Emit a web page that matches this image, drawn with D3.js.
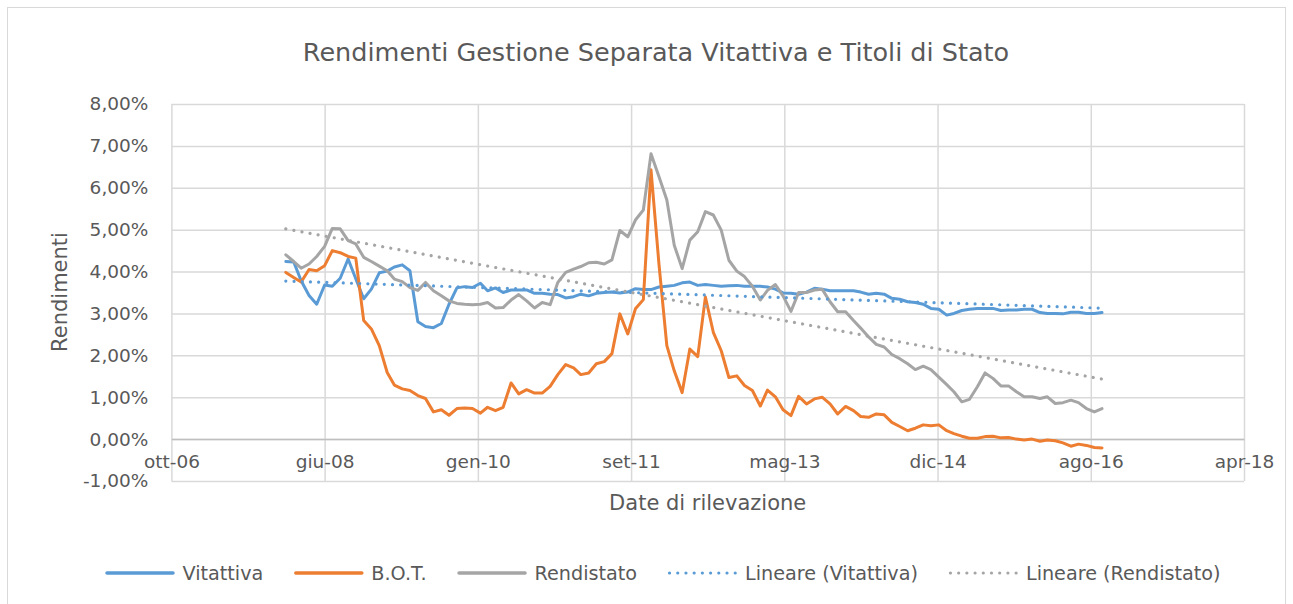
<!DOCTYPE html>
<html lang="it">
<head>
<meta charset="UTF-8">
<title>Rendimenti Gestione Separata Vitattiva e Titoli di Stato</title>
<script src="https://d3js.org/d3.v7.min.js"></script>
<style>
    body { margin: 0; background: #fff; }
    svg { display: block; font-family: "DejaVu Sans", sans-serif; }
    text { fill: #595959; }
</style>
</head>
<body>
<div id="chart"></div>
<script>
    // monthly values, gen-08 .. ott-16 (in %)
    const vitattiva = [
        4.24, 4.23, 3.78, 3.43, 3.22, 3.68, 3.65, 3.84, 4.30, 3.83, 3.35, 3.58,
        3.97, 4.01, 4.11, 4.16, 4.02, 2.80, 2.69, 2.66, 2.76, 3.22, 3.61, 3.64,
        3.62, 3.72, 3.54, 3.61, 3.50, 3.56, 3.56, 3.56, 3.48, 3.48, 3.46, 3.45,
        3.37, 3.40, 3.46, 3.42, 3.48, 3.50, 3.51, 3.49, 3.51, 3.59, 3.57, 3.57,
        3.63, 3.65, 3.67, 3.73, 3.75, 3.67, 3.69, 3.67, 3.65, 3.66, 3.67, 3.65,
        3.65, 3.65, 3.63, 3.58, 3.49, 3.48, 3.46, 3.51, 3.60, 3.58, 3.54, 3.54,
        3.54, 3.54, 3.51, 3.46, 3.48, 3.46, 3.36, 3.34, 3.28, 3.26, 3.22, 3.12,
        3.10, 2.96, 3.00, 3.07, 3.10, 3.12, 3.12, 3.12, 3.07, 3.08, 3.08, 3.10,
        3.10, 3.02, 3.00, 3.00, 2.99, 3.03, 3.03, 3.00, 3.00, 3.02
    ];
    const bot = [
        3.98, 3.86, 3.75, 4.05, 4.02, 4.14, 4.50, 4.45, 4.36, 4.32, 2.83, 2.63,
        2.23, 1.59, 1.29, 1.20, 1.16, 1.04, 0.97, 0.65, 0.70, 0.57, 0.73, 0.74,
        0.73, 0.62, 0.76, 0.68, 0.76, 1.34, 1.08, 1.18, 1.10, 1.10, 1.26, 1.54,
        1.78, 1.70, 1.54, 1.58, 1.80, 1.85, 2.04, 2.99, 2.51, 3.11, 3.33, 6.43,
        4.19, 2.23, 1.63, 1.11, 2.15, 1.97, 3.39, 2.55, 2.11, 1.47, 1.51, 1.28,
        1.16, 0.79, 1.17, 1.01, 0.70, 0.56, 1.02, 0.84, 0.96, 1.00, 0.84, 0.60,
        0.78, 0.68, 0.54, 0.52, 0.60, 0.58, 0.40, 0.30, 0.20, 0.26, 0.34, 0.32,
        0.34, 0.20, 0.13, 0.07, 0.02, 0.02, 0.06, 0.07, 0.03, 0.04, 0.00, -0.02,
        0.00, -0.05, -0.02, -0.04, -0.09, -0.17, -0.12, -0.15, -0.20, -0.21
    ];
    const rendistato = [
        4.40, 4.24, 4.08, 4.18, 4.36, 4.60, 5.03, 5.02, 4.74, 4.66, 4.34, 4.24,
        4.13, 4.02, 3.82, 3.76, 3.62, 3.55, 3.74, 3.54, 3.42, 3.30, 3.24, 3.22,
        3.21, 3.22, 3.26, 3.13, 3.14, 3.32, 3.45, 3.30, 3.13, 3.26, 3.21, 3.74,
        3.98, 4.06, 4.12, 4.21, 4.22, 4.18, 4.28, 4.98, 4.83, 5.23, 5.47, 6.81,
        6.27, 5.71, 4.63, 4.07, 4.75, 4.95, 5.43, 5.35, 4.99, 4.27, 4.01, 3.88,
        3.65, 3.32, 3.55, 3.69, 3.42, 3.05, 3.50, 3.50, 3.56, 3.58, 3.28, 3.04,
        3.04, 2.83, 2.65, 2.44, 2.26, 2.20, 2.02, 1.92, 1.80, 1.66, 1.74, 1.66,
        1.48, 1.30, 1.13, 0.89, 0.95, 1.25, 1.58, 1.45, 1.27, 1.27, 1.13, 1.01,
        1.01, 0.97, 1.01, 0.85, 0.87, 0.93, 0.87, 0.73, 0.65, 0.73
    ];
    const firstMonth = "2008-01-01";
    const tickDates = ["2006-10-10", "2008-06-01", "2010-01-22", "2011-09-14",
                       "2013-05-06", "2014-12-27", "2016-08-18", "2018-04-10"];
    const tickLabels = ["ott-06", "giu-08", "gen-10", "set-11", "mag-13", "dic-14", "ago-16", "apr-18"];
    const yTicks = [-1, 0, 1, 2, 3, 4, 5, 6, 7, 8];
    const seriesNames = ["Vitattiva", "B.O.T.", "Rendistato", "Lineare (Vitattiva)", "Lineare (Rendistato)"];
    const colors = { blue: "#5b9bd5", orange: "#ed7d31", gray: "#a5a5a5" };

    const W = 1293, H = 604;
    const plot = { left: 171.4, right: 1244, top: 104, bottom: 481 };

    const svg = d3.select("#chart").append("svg")
        .attr("width", W)
        .attr("height", H);

    svg.append("rect")
        .attr("width", W).attr("height", H)
        .attr("fill", "#fff");

    // chart area border
    svg.append("rect")
        .attr("x", 7.5).attr("y", 7.5)
        .attr("width", 1278).attr("height", 610)
        .attr("fill", "none")
        .attr("stroke", "#d9d9d9");

    const parse = d3.utcParse("%Y-%m-%d");
    const ticks = tickDates.map(parse);
    const start = parse(firstMonth);
    const months = vitattiva.map((d, i) => d3.utcMonth.offset(start, i));

    const x = d3.scaleUtc().domain([ticks[0], ticks[ticks.length - 1]]).range([plot.left, plot.right]);
    const y = d3.scaleLinear().domain([-1, 8]).range([plot.bottom, plot.top]);

    const it = d3.formatLocale({ decimal: ",", thousands: ".", grouping: [3], currency: ["", "€"], minus: "-" });
    const fmt = v => it.format(".2f")(v) + "%";

    // horizontal gridlines + y labels
    const yAxis = svg.append("g")
        .attr("transform", `translate(${plot.left},0)`)
        .call(d3.axisLeft(y).tickValues(yTicks).tickFormat(fmt)
            .tickSize(-(plot.right - plot.left)).tickPadding(23));
    yAxis.select(".domain").remove();
    yAxis.selectAll("line").attr("stroke", "#d9d9d9").attr("stroke-width", 1.5);
    yAxis.selectAll("text").attr("font-size", 18.5).attr("fill", "#595959")
        .attr("font-family", "DejaVu Sans");

    // vertical gridlines
    const xGrid = svg.append("g")
        .attr("transform", `translate(0,${plot.bottom})`)
        .call(d3.axisBottom(x).tickValues(ticks).tickFormat("")
            .tickSize(-(plot.bottom - plot.top)));
    xGrid.select(".domain").remove();
    xGrid.selectAll("line").attr("stroke", "#d9d9d9").attr("stroke-width", 1.5);

    // horizontal axis crosses at 0
    const xAxis = svg.append("g")
        .attr("transform", `translate(0,${y(0)})`)
        .call(d3.axisBottom(x).tickValues(ticks)
            .tickFormat((d, i) => tickLabels[i]).tickSize(0).tickPadding(16));
    xAxis.select(".domain").attr("stroke", "#bfbfbf").attr("stroke-width", 1.5);
    xAxis.selectAll("text").attr("font-size", 18.5).attr("fill", "#595959")
        .attr("font-family", "DejaVu Sans");

    // trendlines (least squares on date)
    function trend(values) {
        const xs = months.map(d => +d / 864e5);
        const mx = d3.mean(xs), my = d3.mean(values);
        let num = 0, den = 0;
        xs.forEach((v, i) => { num += (v - mx) * (values[i] - my); den += (v - mx) ** 2; });
        const m = num / den, b = my - m * mx;
        const ends = [months[0], months[months.length - 1]];
        return ends.map(d => ({ date: d, value: m * (+d / 864e5) + b }));
    }

    const line = d3.line().x(d => x(d.date)).y(d => y(d.value));
    const toPoints = vals => vals.map((v, i) => ({ date: months[i], value: v }));

    const series = [
        { vals: toPoints(vitattiva), color: colors.blue },
        { vals: toPoints(bot), color: colors.orange },
        { vals: toPoints(rendistato), color: colors.gray }
    ];

    svg.selectAll(".series")
        .data(series)
        .enter().append("path")
        .attr("class", "series")
        .attr("d", d => line(d.vals))
        .attr("fill", "none")
        .attr("stroke", d => d.color)
        .attr("stroke-width", 3)
        .attr("stroke-linejoin", "round")
        .attr("stroke-linecap", "round");

    const trends = [
        { vals: trend(vitattiva), color: colors.blue },
        { vals: trend(rendistato), color: colors.gray }
    ];

    svg.selectAll(".trend")
        .data(trends)
        .enter().append("path")
        .attr("class", "trend")
        .attr("d", d => line(d.vals))
        .attr("fill", "none")
        .attr("stroke", d => d.color)
        .attr("stroke-width", 3.2)
        .attr("stroke-linecap", "round")
        .attr("stroke-dasharray", "0.01 8.2");

    // title
    svg.append("text")
        .attr("x", 656).attr("y", 61)
        .attr("text-anchor", "middle")
        .attr("font-size", 25.5)
        .text("Rendimenti Gestione Separata Vitattiva e Titoli di Stato");

    // axis titles
    svg.append("text")
        .attr("x", (plot.left + plot.right) / 2).attr("y", 510)
        .attr("text-anchor", "middle")
        .attr("font-size", 21)
        .text("Date di rilevazione");

    svg.append("text")
        .attr("transform", "translate(67,292) rotate(-90)")
        .attr("text-anchor", "middle")
        .attr("font-size", 21)
        .text("Rendimenti");

    // legend
    const legendItems = [
        { name: seriesNames[0], color: colors.blue, dotted: false },
        { name: seriesNames[1], color: colors.orange, dotted: false },
        { name: seriesNames[2], color: colors.gray, dotted: false },
        { name: seriesNames[3], color: colors.blue, dotted: true },
        { name: seriesNames[4], color: colors.gray, dotted: true }
    ];
    const legend = svg.append("g");
    const ly = 573, sample = 69, gapText = 8, gapItem = 31;
    let cx = 0;
    legendItems.forEach(item => {
        const g = legend.append("g").attr("transform", `translate(${cx},0)`);
        g.append("line")
            .attr("x1", 1.5).attr("x2", sample - 1.5)
            .attr("y1", ly).attr("y2", ly)
            .attr("stroke", item.color)
            .attr("stroke-width", item.dotted ? 3.2 : 3.5)
            .attr("stroke-linecap", "round")
            .attr("stroke-dasharray", item.dotted ? "0.01 8.2" : null);
        const t = g.append("text")
            .attr("x", sample + gapText).attr("y", ly)
            .attr("dy", "0.35em")
            .attr("font-size", 19.2)
            .text(item.name);
        cx += sample + gapText + t.node().getComputedTextLength() + gapItem;
    });
    const total = cx - gapItem;
    legend.attr("transform", `translate(${663 - total / 2},0)`);
</script>
</body>
</html>
